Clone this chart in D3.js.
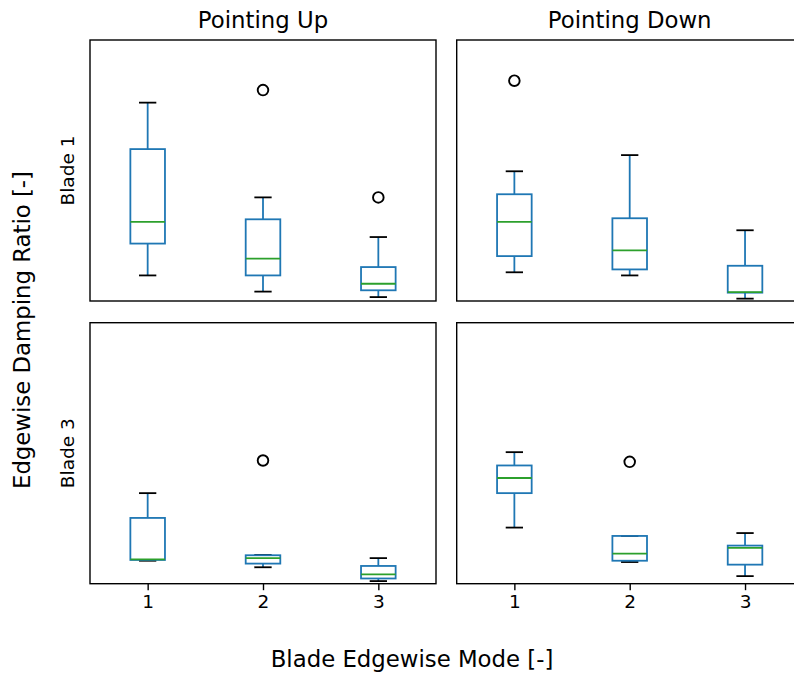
<!DOCTYPE html>
<html lang="en">
<head>
<meta charset="UTF-8">
<title>Edgewise Damping Ratio</title>
<script src="https://d3js.org/d3.v7.min.js"></script>
<style>
  body { margin: 0; background: #fff; }
  text { font-family: "DejaVu Sans", sans-serif; fill: #000; }
</style>
</head>
<body>
<div id="chart"></div>
<script>
// box stats per mode: [lower whisker, Q1, median, Q3, upper whisker]
var modes = [1, 2, 3];
var colTitles = ["Pointing Up", "Pointing Down"];
var rowTitles = ["Blade 1", "Blade 3"];

var upBlade1 = [[9.8, 22.0, 30.3, 58.2, 76.0], [3.6, 9.8, 16.2, 31.3, 39.7], [1.5, 4.1, 6.6, 13.0, 24.5]];
var upBlade1Out = [[], [80.8], [39.7]];
var downBlade1 = [[11.0, 17.2, 30.3, 40.9, 49.7], [9.8, 12.1, 19.4, 31.7, 55.9], [0.9, 3.2, 3.4, 13.5, 27.1]];
var downBlade1Out = [[84.4], [], []];
var upBlade3 = [[8.8, 9.1, 9.3, 25.2, 34.7], [6.3, 7.7, 9.8, 10.9, 11.0], [1.0, 2.0, 3.6, 6.8, 9.8]];
var upBlade3Out = [[], [47.2], []];
var downBlade3 = [[21.5, 34.7, 40.5, 45.3, 50.4], [8.3, 8.8, 11.5, 18.3, 18.3], [2.9, 7.3, 13.7, 14.6, 19.4]];
var downBlade3Out = [[], [46.7], []];

var panels = [
  { row: 0, col: 0, stats: upBlade1, out: upBlade1Out },
  { row: 0, col: 1, stats: downBlade1, out: downBlade1Out },
  { row: 1, col: 0, stats: upBlade3, out: upBlade3Out },
  { row: 1, col: 1, stats: downBlade3, out: downBlade3Out }
];

var W = 794, H = 673;
var colX = [90, 456.7], panelW = 346;
var rowY = [40, 322.7], panelH = 261;

var svg = d3.select("#chart").append("svg")
  .attr("width", W).attr("height", H);

var blue = "#1f77b4", green = "#2ca02c";
var lw = 1.8;

var y = d3.scaleLinear().domain([0, 100]).range([panelH, 0]);

panels.forEach(function(p) {
  var x = d3.scaleLinear().domain([0.5, 3.5]).range([0, panelW]);
  var g = svg.append("g")
    .attr("transform", "translate(" + colX[p.col] + "," + rowY[p.row] + ")");

  var boxW = x(1.15) - x(1), capW = x(1.075) - x(1);

  p.stats.forEach(function(s, i) {
    var cx = x(modes[i]);
    // whiskers
    g.append("line").attr("x1", cx).attr("x2", cx).attr("y1", y(s[0])).attr("y2", y(s[1]))
      .attr("stroke", blue).attr("stroke-width", lw);
    g.append("line").attr("x1", cx).attr("x2", cx).attr("y1", y(s[3])).attr("y2", y(s[4]))
      .attr("stroke", blue).attr("stroke-width", lw);
    // caps
    [s[0], s[4]].forEach(function(v) {
      g.append("line").attr("x1", cx - capW).attr("x2", cx + capW).attr("y1", y(v)).attr("y2", y(v))
        .attr("stroke", "#000").attr("stroke-width", lw);
    });
    // box
    g.append("rect")
      .attr("x", cx - boxW).attr("width", 2 * boxW)
      .attr("y", y(s[3])).attr("height", y(s[1]) - y(s[3]))
      .attr("fill", "none").attr("stroke", blue).attr("stroke-width", lw);
    // median
    g.append("line").attr("x1", cx - boxW).attr("x2", cx + boxW).attr("y1", y(s[2])).attr("y2", y(s[2]))
      .attr("stroke", green).attr("stroke-width", lw);
    // fliers
    p.out[i].forEach(function(v) {
      g.append("circle").attr("cx", cx).attr("cy", y(v)).attr("r", 5.3)
        .attr("fill", "none").attr("stroke", "#000").attr("stroke-width", 1.9);
    });
  });

  // frame
  g.append("rect").attr("width", panelW).attr("height", panelH)
    .attr("fill", "none").attr("stroke", "#000").attr("stroke-width", 1.4);

  if (p.row === 1) {
    var ax = g.append("g").attr("transform", "translate(0," + panelH + ")")
      .call(d3.axisBottom(x).tickValues(modes).tickFormat(d3.format("d")).tickSizeOuter(0).tickSize(6.5).tickPadding(5));
    ax.select(".domain").remove();
    ax.selectAll(".tick line").attr("stroke-width", 1.4);
    ax.selectAll(".tick text").style("font-family", "DejaVu Sans").style("font-size", "18.5px");
  }
  if (p.row === 0) {
    g.append("text").attr("x", panelW / 2).attr("y", -12)
      .attr("text-anchor", "middle").style("font-size", "22.8px")
      .text(colTitles[p.col]);
  }
  if (p.col === 0) {
    g.append("text")
      .attr("transform", "translate(-16," + (panelH / 2) + ") rotate(-90)")
      .attr("text-anchor", "middle").style("font-size", "18.5px")
      .text(rowTitles[p.row]);
  }
});

svg.append("text")
  .attr("transform", "translate(30,330) rotate(-90)")
  .attr("text-anchor", "middle").style("font-size", "22.8px")
  .text("Edgewise Damping Ratio [-]");

svg.append("text")
  .attr("x", 412).attr("y", 667)
  .attr("text-anchor", "middle").style("font-size", "22.8px")
  .text("Blade Edgewise Mode [-]");
</script>
</body>
</html>
